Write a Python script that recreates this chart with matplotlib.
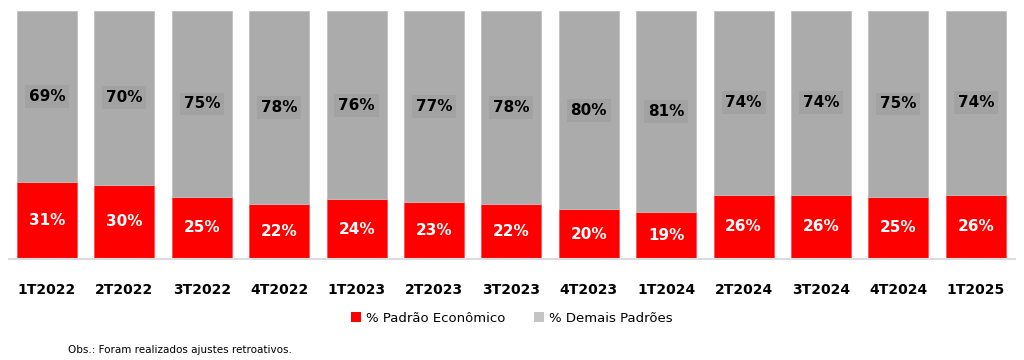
import matplotlib
matplotlib.use("Agg")
import matplotlib.pyplot as plt
from matplotlib.patches import Patch

categories = ["1T2022", "2T2022", "3T2022", "4T2022", "1T2023", "2T2023", "3T2023",
              "4T2023", "1T2024", "2T2024", "3T2024", "4T2024", "1T2025"]
padrao_economico = [31, 30, 25, 22, 24, 23, 22, 20, 19, 26, 26, 25, 26]
demais_padroes = [69, 70, 75, 78, 76, 77, 78, 80, 81, 74, 74, 75, 74]

RED = "#ff0000"
GRAY = "#ababab"
LEG_GRAY = "#c4c4c4"

plt.rcParams['font.family'] = ['DejaVu Sans']

fig = plt.figure(figsize=(10.24, 3.6), dpi=100)
ax = fig.add_axes([9/1024, 1 - 259/360, 1006/1024, 248/360])

x = list(range(len(categories)))
w = 0.775
ax.bar(x, padrao_economico, width=w, color=RED, edgecolor="#ff5050", linewidth=0.6)
ax.bar(x, demais_padroes, width=w, bottom=padrao_economico, color=GRAY,
       edgecolor="#c0c0c0", linewidth=0.6)

for i, (r, g) in enumerate(zip(padrao_economico, demais_padroes)):
    ax.text(i, r / 2, f"{r}%", ha="center", va="center", color="white",
            fontsize=11, fontweight="bold")
    ax.text(i, r + g / 2, f"{g}%", ha="center", va="center", color="black",
            fontsize=11, fontweight="bold",
            bbox=dict(boxstyle="square,pad=0.25", facecolor="#a2a2a2", edgecolor="none"))

ax.set_xlim((9 - 47) / 77.4, (1015 - 47) / 77.4)
ax.set_ylim(0, 100)
ax.set_yticks([])
ax.set_xticks(x)
ax.set_xticklabels(categories, fontsize=10, fontweight="bold")
ax.tick_params(axis="x", length=0, pad=17)
for s in ["top", "right", "left"]:
    ax.spines[s].set_visible(False)
ax.spines["bottom"].set_color("#dcdcdc")
ax.spines["bottom"].set_linewidth(1.5)

handles = [Patch(facecolor=RED, edgecolor="none", label="% Padrão Econômico"),
           Patch(facecolor=LEG_GRAY, edgecolor="none", label="% Demais Padrões")]
fig.legend(handles=handles, loc="center", bbox_to_anchor=(0.5, 1 - 318/360), ncol=2,
           frameon=False, fontsize=9.5, handlelength=0.7, handleheight=0.7,
           handletextpad=0.4, columnspacing=2.2)

fig.text(68/1024, 1 - 350/360, "Obs.: Foram realizados ajustes retroativos.",
         fontsize=7.5, ha="left", va="center")

fig.savefig("out.png", dpi=100)
